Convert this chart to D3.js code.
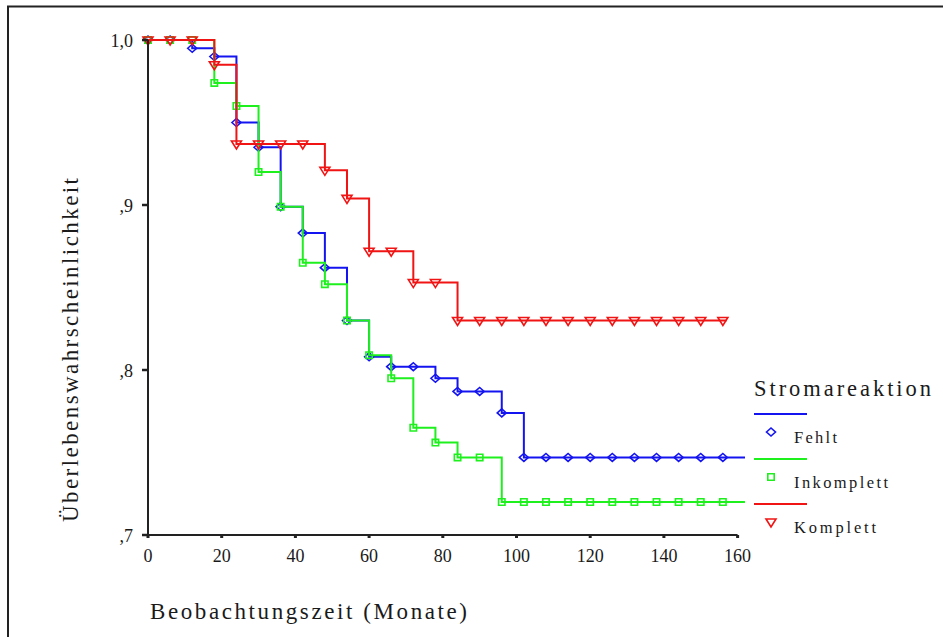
<!DOCTYPE html>
<html>
<head>
<meta charset="utf-8">
<script src="https://cdn.jsdelivr.net/npm/d3@7"></script>
<style>
  body { margin: 0; background: #fff; }
</style>
</head>
<body>
<svg id="chart" width="943" height="637"></svg>
<script>
// Kaplan-Meier estimates, read at every 6 months
const months = [0, 6, 12, 18, 24, 30, 36, 42, 48, 54, 60, 66, 72, 78, 84, 90, 96, 102, 108, 114, 120, 126, 132, 138, 144, 150, 156];
const fehlt = [1.0, 1.0, 0.995, 0.990, 0.950, 0.935, 0.899, 0.883, 0.862, 0.830, 0.808, 0.802, 0.802, 0.795, 0.787, 0.787, 0.774, 0.747, 0.747, 0.747, 0.747, 0.747, 0.747, 0.747, 0.747, 0.747, 0.747];
const inkomplett = [1.0, 1.0, 1.0, 0.974, 0.960, 0.920, 0.899, 0.865, 0.852, 0.830, 0.809, 0.795, 0.765, 0.756, 0.747, 0.747, 0.720, 0.720, 0.720, 0.720, 0.720, 0.720, 0.720, 0.720, 0.720, 0.720, 0.720];
const komplett = [1.0, 1.0, 1.0, 0.985, 0.937, 0.937, 0.937, 0.937, 0.921, 0.904, 0.872, 0.872, 0.853, 0.853, 0.830, 0.830, 0.830, 0.830, 0.830, 0.830, 0.830, 0.830, 0.830, 0.830, 0.830, 0.830, 0.830];
const groupNames = ["Fehlt", "Inkomplett", "Komplett"];
const groupEnds = [162, 162, 157];   // last follow-up month per group
const xTicks = [0, 20, 40, 60, 80, 100, 120, 140, 160];
const yTicks = [0.7, 0.8, 0.9, 1.0];
const yTickLabels = [",7", ",8", ",9", "1,0"];

const groupValues = [fehlt, inkomplett, komplett];
const colors = ["#1414f0", "#1ef01e", "#f01414"];
const markerPaths = [
  "M-4.5,0L0,-4L4.5,0L0,4Z",      // diamond
  "M-3.2,-3.2h6.4v6.4h-6.4Z",     // square
  "M-5,-3L5,-3L0,5Z"              // triangle down
];
const textColor = "#1a1a1a";
const font = '"Liberation Serif", "Times New Roman", serif';

const svg = d3.select("#chart");
const x = d3.scaleLinear().domain([0, 160]).range([148, 737.6]);
const y = d3.scaleLinear().domain([0.7, 1.0]).range([535, 40]);

function addText(parent, str, size) {
  return parent.append("text")
    .style("font-family", font)
    .style("font-size", size + "px")
    .attr("fill", textColor)
    .text(str);
}

// outer frame (only top and left visible)
svg.append("path")
  .attr("d", "M8,637V6.5H943")
  .attr("fill", "none")
  .attr("stroke", "#222")
  .attr("stroke-width", 2);

// curves
const line = d3.line()
  .x(d => x(d[0]))
  .y(d => y(d[1]))
  .curve(d3.curveStepAfter);

groupNames.forEach((name, gi) => {
  const vals = groupValues[gi];
  const pts = months.map((m, i) => [m, vals[i]]);
  pts.push([groupEnds[gi], vals[vals.length - 1]]);
  const g = svg.append("g").attr("class", "group-" + name);
  g.append("path")
    .attr("d", line(pts))
    .attr("fill", "none")
    .attr("stroke", colors[gi])
    .attr("stroke-width", 2);
  g.selectAll(".mark")
    .data(months.map((m, i) => [m, vals[i]]))
    .enter().append("path")
    .attr("class", "mark")
    .attr("transform", d => `translate(${x(d[0])},${y(d[1])})`)
    .attr("d", markerPaths[gi])
    .attr("fill", "none")
    .attr("stroke", colors[gi])
    .attr("stroke-width", 1.6);
});

// axes
const axisG = svg.append("g");
axisG.append("line")
  .attr("x1", x(0)).attr("x2", x(0))
  .attr("y1", y(1.0)).attr("y2", y(0.7))
  .attr("stroke", "#222").attr("stroke-width", 2);
axisG.append("line")
  .attr("x1", x(0) - 1).attr("x2", x(160))
  .attr("y1", y(0.7)).attr("y2", y(0.7))
  .attr("stroke", "#222").attr("stroke-width", 2);

axisG.selectAll(".xtick")
  .data(xTicks)
  .enter().append("rect")
  .attr("x", d => x(d) - 1.5)
  .attr("y", y(0.7))
  .attr("width", 3).attr("height", 3)
  .attr("fill", "#222");

xTicks.forEach(t => {
  addText(axisG, t, 18)
    .attr("x", x(t))
    .attr("y", 562)
    .attr("text-anchor", "middle");
});

axisG.selectAll(".ytick")
  .data(yTicks)
  .enter().append("line")
  .attr("x1", x(0) - 6).attr("x2", x(0))
  .attr("y1", d => y(d)).attr("y2", d => y(d))
  .attr("stroke", "#222").attr("stroke-width", 2.5);

yTicks.forEach((t, i) => {
  addText(axisG, yTickLabels[i], 18)
    .attr("x", 133)
    .attr("y", y(t) + 6.5)
    .attr("text-anchor", "end");
});

// axis titles
addText(svg, "Überlebenswahrscheinlichkeit", 23)
  .attr("transform", "translate(78,350) rotate(-90)")
  .attr("text-anchor", "middle")
  .attr("textLength", 344)
  .attr("lengthAdjust", "spacing");

addText(svg, "Beobachtungszeit (Monate)", 23)
  .attr("x", 150)
  .attr("y", 619)
  .attr("textLength", 317)
  .attr("lengthAdjust", "spacing");

// legend
const legend = svg.append("g");
addText(legend, "Stromareaktion", 22.5)
  .attr("x", 754).attr("y", 396)
  .attr("textLength", 177)
  .attr("lengthAdjust", "spacing");

const legendLens = [43, 94, 82];
groupNames.forEach((name, gi) => {
  const top = 414 + gi * 45;
  legend.append("line")
    .attr("x1", 754).attr("x2", 807)
    .attr("y1", top).attr("y2", top)
    .attr("stroke", colors[gi]).attr("stroke-width", 2);
  legend.append("path")
    .attr("transform", `translate(771,${top + 18})`)
    .attr("d", markerPaths[gi])
    .attr("fill", "none")
    .attr("stroke", colors[gi])
    .attr("stroke-width", 1.6);
  addText(legend, name, 16.5)
    .attr("x", 794).attr("y", top + 29)
    .attr("textLength", legendLens[gi])
    .attr("lengthAdjust", "spacing");
});
</script>
</body>
</html>
